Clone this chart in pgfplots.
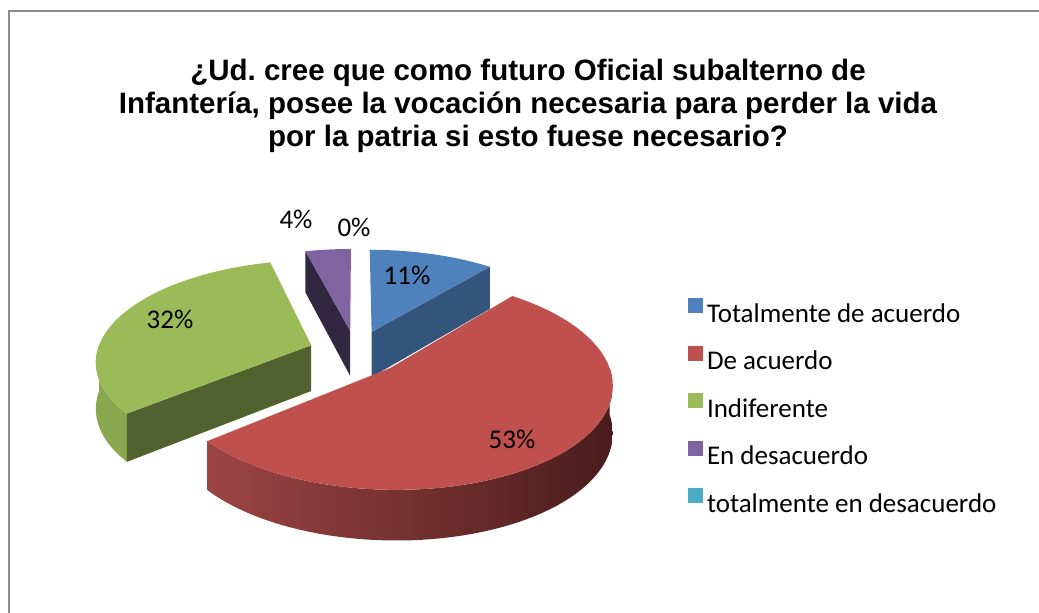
\documentclass[border=0pt]{standalone}
\usepackage{fontspec}
\setmainfont{Carlito}
\newfontfamily\titlefont{Liberation Sans}
\usepackage{pgfplots}
\pgfplotsset{compat=1.18}
\definecolor{blueT}{HTML}{4F81BD}\definecolor{blueS}{HTML}{33557C}
\definecolor{redT}{HTML}{C0504D}\definecolor{redL}{HTML}{9C4543}\definecolor{redR}{HTML}{4A1C1C}
\definecolor{greenT}{HTML}{9BBB59}\definecolor{greenS}{HTML}{52622F}\definecolor{greenO}{HTML}{8AA84F}
\definecolor{purpleT}{HTML}{8064A2}\definecolor{purpleS}{HTML}{322740}
\definecolor{tealT}{HTML}{4BACC6}
% data: percentages
\def\vA{11}\def\vB{53}\def\vC{32}\def\vD{4}\def\vE{0}
\pgfmathsetmacro\aA{0}
\pgfmathsetmacro\aB{3.6*\vA}
\pgfmathsetmacro\aC{3.6*(\vA+\vB)}
\pgfmathsetmacro\aD{3.6*(\vA+\vB+\vC)}
\pgfmathsetmacro\aE{3.6*(\vA+\vB+\vC+\vD)}
\pgfmathsetmacro\mA{(\aA+\aB)/2}
\pgfmathsetmacro\mB{(\aB+\aC)/2}
\pgfmathsetmacro\mC{(\aC+\aD)/2}
\pgfmathsetmacro\mD{(\aD+\aE)/2}
% geometry of the 3-D pie
\def\R{0.206}\def\E{0.0457}\def\F{1040}\def\SA{0.4635}\def\CA{0.7}\def\XO{356}\def\YO{352}
\newcommand\TopFace[3]{%
  \addplot[forget plot, draw=none, fill=#3, variable=\kk, samples at={0,...,61}]
   ({PX(UU((#1+#2)/2,(\kk<0.5?0:\R),#1+(#2-#1)*(\kk-1)/60),VV((#1+#2)/2,(\kk<0.5?0:\R),#1+(#2-#1)*(\kk-1)/60))},
    {PY(UU((#1+#2)/2,(\kk<0.5?0:\R),#1+(#2-#1)*(\kk-1)/60),VV((#1+#2)/2,(\kk<0.5?0:\R),#1+(#2-#1)*(\kk-1)/60))});
}
\newcommand\OuterSide[4]{% #1 b1, #2 b2, #3 mid angle, #4 style
  \addplot[forget plot, draw=none, #4, variable=\kk, samples at={0,...,121}]
   ({PX(UU(#3,\R,AN(\kk,#1,#2)),VV(#3,\R,AN(\kk,#1,#2)))},
    {PY(UU(#3,\R,AN(\kk,#1,#2)),VV(#3,\R,AN(\kk,#1,#2)))+BT(\kk)*DP(VV(#3,\R,AN(\kk,#1,#2)))});
}
\newcommand\Radial[3]{% #1 angle, #2 mid angle, #3 style
  \addplot[forget plot, draw=none, #3, variable=\kk, samples at={0,1,2,3}]
   ({PX(UU(#2,RD(\kk),#1),VV(#2,RD(\kk),#1))},
    {PY(UU(#2,RD(\kk),#1),VV(#2,RD(\kk),#1))+BR(\kk)*DP(VV(#2,RD(\kk),#1))});
}
\newcommand\lab{\fontsize{27}{31}\selectfont}
\frenchspacing
\begin{document}%
\begin{tikzpicture}
\begin{axis}[name=ax,
  width=1039pt, height=613pt, scale only axis,
  xmin=0, xmax=1039, ymin=0, ymax=613, y dir=reverse,
  hide axis, clip=false,
  declare function={
    zq(\qv)=1-\qv*\CA;
    PX(\qu,\qv)=\XO+\F*\qu/zq(\qv);
    PY(\qu,\qv)=\YO+\F*\SA*\qv/zq(\qv);
    DP(\qv)=46+4*\qv/\R;
    UU(\qm,\qr,\qt)=\E*sin(\qm)+\qr*sin(\qt);
    VV(\qm,\qr,\qt)=-\E*cos(\qm)-\qr*cos(\qt);
    AN(\qk,\qa,\qb)=(\qk<60.5)?(\qa+(\qb-\qa)*\qk/60):(\qb-(\qb-\qa)*(\qk-61)/60);
    BT(\qk)=(\qk<60.5)?0:1;
    RD(\qk)=(\qk>0.5 && \qk<2.5)?\R:0;
    BR(\qk)=(\qk>1.5)?1:0;
  },
  legend image code/.code={\fill[#1] (0pt,3pt) rectangle (15pt,18pt);},
  legend cell align=left,
  legend style={at={(axis cs:688,298)}, anchor=north west, draw=none, fill=none,
    inner sep=0pt, outer sep=0pt, row sep=16.5pt, column sep=4pt,
    font=\lab,
    nodes={inner sep=0pt, text height=19pt, text depth=7pt}},
]
\draw[color=black!45, line width=2pt] (axis cs:8.5,800) -- (axis cs:8.5,11) -- (axis cs:1200,11);
% purple (En desacuerdo)
\Radial{\aD}{\mD}{fill=purpleS}
\TopFace{\aD}{\aE}{purpleT}
% blue (Totalmente de acuerdo)
\Radial{\aB}{\mA}{fill=blueS}
\TopFace{\aA}{\aB}{blueT}
% green (Indiferente)
\OuterSide{\aC}{270}{\mC}{fill=greenO}
\Radial{\aC}{\mC}{fill=greenS}
\TopFace{\aC}{\aD}{greenT}
% red (De acuerdo)
\OuterSide{90}{\aC}{\mB}{left color=redL, right color=redR}
\TopFace{\aB}{\aC}{redT}
% legend
\addlegendimage{fill=blueT, draw=none}\addlegendentry{Totalmente de acuerdo}
\addlegendimage{fill=redT, draw=none}\addlegendentry{De acuerdo}
\addlegendimage{fill=greenT, draw=none}\addlegendentry{Indiferente}
\addlegendimage{fill=purpleT, draw=none}\addlegendentry{En desacuerdo}
\addlegendimage{fill=tealT, draw=none}\addlegendentry{totalmente en desacuerdo}
% data labels
\node[font=\lab] at (axis cs:407,275) {11\%};
\node[font=\lab] at (axis cs:512,439) {53\%};
\node[font=\lab] at (axis cs:170,319) {32\%};
\node[font=\lab] at (axis cs:296,219) {4\%};
\node[font=\lab] at (axis cs:354,227) {0\%};
% title
\node[font=\titlefont\bfseries\fontsize{29.5}{33}\selectfont, align=center] at (axis cs:528,105.5)
  {¿Ud. cree que como futuro Oficial subalterno de\\Infantería, posee la vocación necesaria para perder la vida\\por la patria si esto fuese necesario?};
\end{axis}
\pgfresetboundingbox
\useasboundingbox (ax.south west) rectangle (ax.north east);
\end{tikzpicture}%
\end{document}
